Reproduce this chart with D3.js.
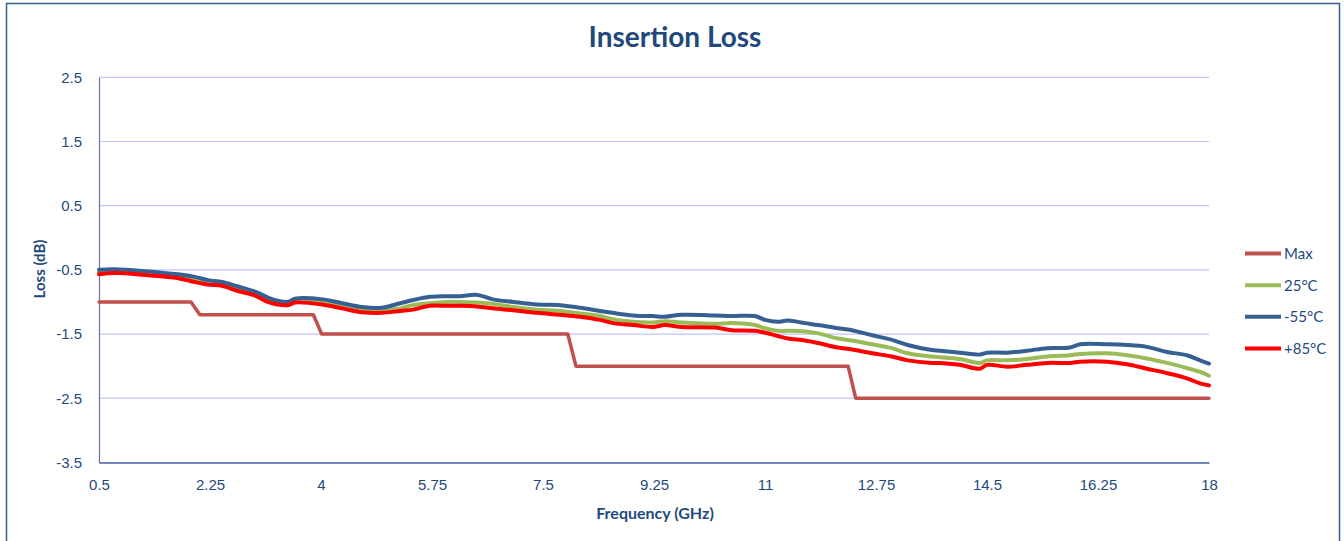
<!DOCTYPE html>
<html>
<head>
<meta charset="utf-8">
<script src="https://cdn.jsdelivr.net/npm/d3@7"></script>
<style>
    html, body { margin: 0; padding: 0; background: #ffffff; }
    svg { display: block; font-family: Lato, 'Open Sans', sans-serif; }
</style>
</head>
<body>
<svg id="chart" width="1344" height="541"></svg>
<script>
'use strict';

// Chart data
const freqs = [0.50, 0.75, 1.23, 1.75, 2.01, 2.22, 2.44, 2.69, 2.96, 3.16, 3.31, 3.48, 3.59, 4.02, 4.33, 4.65,
    4.96, 5.25, 5.45, 5.72, 5.99, 6.19, 6.46, 6.71, 7.03, 7.41, 7.77, 8.08, 8.40, 8.60, 8.92, 9.23,
    9.42, 9.69, 10.21, 10.48, 10.84, 11.00, 11.20, 11.36, 11.63, 11.84, 12.15, 12.37, 12.69, 13.00, 13.25, 13.63,
    13.76, 14.07, 14.39, 14.50, 14.82, 15.13, 15.45, 15.81, 15.97, 16.39, 16.71, 17.02, 17.34, 17.65, 17.86, 18.00];

const lossM55 = [-0.50, -0.49, -0.52, -0.57, -0.61, -0.66, -0.69, -0.76, -0.84, -0.93, -0.98, -1.00, -0.95, -0.96, -1.02, -1.08,
    -1.09, -1.02, -0.97, -0.92, -0.91, -0.91, -0.89, -0.96, -1.00, -1.04, -1.05, -1.09, -1.14, -1.17, -1.21, -1.22,
    -1.23, -1.20, -1.21, -1.22, -1.22, -1.28, -1.31, -1.29, -1.33, -1.36, -1.41, -1.44, -1.52, -1.59, -1.67, -1.75,
    -1.76, -1.79, -1.82, -1.79, -1.79, -1.76, -1.72, -1.71, -1.66, -1.66, -1.67, -1.70, -1.78, -1.83, -1.91, -1.96];

const loss25 = [-0.54, -0.52, -0.55, -0.60, -0.65, -0.70, -0.72, -0.80, -0.87, -0.97, -1.01, -1.03, -0.98, -0.99, -1.06, -1.12,
    -1.13, -1.10, -1.05, -1.02, -1.00, -1.00, -1.01, -1.03, -1.08, -1.12, -1.14, -1.18, -1.22, -1.27, -1.31, -1.32,
    -1.30, -1.32, -1.34, -1.33, -1.36, -1.41, -1.45, -1.45, -1.46, -1.49, -1.57, -1.60, -1.66, -1.72, -1.80, -1.85,
    -1.86, -1.89, -1.95, -1.91, -1.91, -1.89, -1.85, -1.83, -1.81, -1.80, -1.83, -1.88, -1.95, -2.03, -2.09, -2.15];

const lossP85 = [-0.57, -0.55, -0.58, -0.63, -0.69, -0.73, -0.75, -0.83, -0.90, -1.00, -1.04, -1.05, -1.01, -1.04, -1.10, -1.16,
    -1.17, -1.14, -1.12, -1.06, -1.06, -1.06, -1.07, -1.10, -1.13, -1.17, -1.20, -1.23, -1.28, -1.33, -1.36, -1.39,
    -1.36, -1.39, -1.40, -1.44, -1.45, -1.48, -1.53, -1.57, -1.60, -1.64, -1.71, -1.74, -1.80, -1.85, -1.91, -1.95,
    -1.95, -1.98, -2.04, -1.98, -2.01, -1.98, -1.95, -1.95, -1.93, -1.93, -1.97, -2.04, -2.11, -2.19, -2.27, -2.30];

const maxFreqs = [0.5, 1.95, 2.09, 3.88, 4.01, 7.89, 8.02, 12.31, 12.43, 18.0];
const maxLoss = [-1.0, -1.0, -1.2, -1.2, -1.5, -1.5, -2.0, -2.0, -2.5, -2.5];

const seriesNames = ['Max', '25°C', '-55°C', '+85°C'];
const xTicks = [0.5, 2.25, 4, 5.75, 7.5, 9.25, 11, 12.75, 14.5, 16.25, 18];
const yTicks = [2.5, 1.5, 0.5, -0.5, -1.5, -2.5, -3.5];

// IIFE
(function () {

    // Get svg
    const svg = d3.select('#chart');

    // Config
    const plot = {'left': 99, 'right': 1209, 'top': 77.3, 'bottom': 462.4};
    const textColor = '#1f497d';
    const colors = {'Max': '#c0504d', '25°C': '#9bbb59', '-55°C': '#376092', '+85°C': '#ff0000'};

    // Build series (Max is a stepped limit, drawn straight)
    const series = [
        {'name': 'Max', 'pts': maxFreqs.map((f, i) => [f, maxLoss[i]]), 'width': 3.5, 'smooth': false},
        {'name': '25°C', 'pts': freqs.map((f, i) => [f, loss25[i]]), 'width': 4, 'smooth': true},
        {'name': '-55°C', 'pts': freqs.map((f, i) => [f, lossM55[i]]), 'width': 4, 'smooth': true},
        {'name': '+85°C', 'pts': freqs.map((f, i) => [f, lossP85[i]]), 'width': 4, 'smooth': true}
    ];

    // Outer border
    svg.append('rect')
        .attr('x', 6.5)
        .attr('y', 3.5)
        .attr('width', 1333)
        .attr('height', 600)
        .style('fill', 'none')
        .style('stroke', '#365f91')
        .style('stroke-width', 1.5);

    // Scales
    const scX = d3.scaleLinear()
        .domain([0.5, 18])
        .range([plot.left, plot.right]);

    const scY = d3.scaleLinear()
        .domain([-3.5, 2.5])
        .range([plot.bottom, plot.top]);

    // Gridlines
    svg.append('g')
        .attr('class', 'grid')
        .selectAll('line')
        .data(yTicks.filter((d) => d > -3.5))
        .enter()
        .append('line')
            .attr('x1', plot.left)
            .attr('x2', plot.right)
            .attr('y1', (d) => scY(d))
            .attr('y2', (d) => scY(d))
            .style('stroke', '#c3c3f7')
            .style('stroke-width', 1.2);

    // X axis
    const xAxis = svg.append('g')
        .attr('class', 'x axis')
        .attr('transform', `translate(0, ${plot.bottom})`)
        .call(d3.axisBottom(scX).tickValues(xTicks).tickSize(0).tickPadding(17).tickFormat((d) => String(d)));

    xAxis.select('.domain')
        .style('stroke', '#7588bf')
        .style('stroke-width', 2);

    // Y axis
    const yAxis = svg.append('g')
        .attr('class', 'y axis')
        .attr('transform', `translate(${plot.left}, 0)`)
        .call(d3.axisLeft(scY).tickValues(yTicks).tickSize(0).tickPadding(17).tickFormat((d) => String(d)));

    yAxis.select('.domain')
        .style('stroke', '#5f77ad')
        .style('stroke-width', 1.2);

    svg.selectAll('.axis text')
        .style('font-size', '15px')
        .style('fill', textColor);

    // Lines
    const smoothLine = d3.line()
        .x((d) => scX(d[0]))
        .y((d) => scY(d[1]))
        .curve(d3.curveCatmullRom.alpha(0.5));

    const stepLine = d3.line()
        .x((d) => scX(d[0]))
        .y((d) => scY(d[1]));

    svg.append('g')
        .attr('class', 'lines')
        .selectAll('path')
        .data(series)
        .enter()
        .append('path')
            .attr('d', (d) => d.smooth ? smoothLine(d.pts) : stepLine(d.pts))
            .style('fill', 'none')
            .style('stroke', (d) => colors[d.name])
            .style('stroke-width', (d) => d.width)
            .style('stroke-linejoin', 'round')
            .style('stroke-linecap', 'round');

    // Title
    svg.append('text')
        .attr('x', 675)
        .attr('y', 47)
        .attr('text-anchor', 'middle')
        .style('font-size', '28px')
        .style('font-weight', 'bold')
        .style('fill', textColor)
        .text('Insertion Loss');

    // Axis titles
    svg.append('text')
        .attr('x', 655)
        .attr('y', 519)
        .attr('text-anchor', 'middle')
        .style('font-size', '16px')
        .style('font-weight', 'bold')
        .style('fill', textColor)
        .text('Frequency (GHz)');

    svg.append('text')
        .attr('transform', 'translate(45, 269) rotate(-90)')
        .attr('text-anchor', 'middle')
        .style('font-size', '15px')
        .style('font-weight', 'bold')
        .style('fill', textColor)
        .text('Loss (dB)');

    // Legend
    const legend = svg.append('g')
        .attr('class', 'legend')
        .selectAll('g')
        .data(seriesNames)
        .enter()
        .append('g')
            .attr('transform', (d, i) => `translate(1245, ${253.6 + i * 31.6})`);

    legend.append('line')
        .attr('x1', 0)
        .attr('x2', 36)
        .style('stroke', (d) => colors[d])
        .style('stroke-width', 4);

    legend.append('text')
        .attr('x', 39)
        .attr('dy', '0.36em')
        .style('font-size', '15px')
        .style('fill', textColor)
        .text((d) => d);

})();
</script>
</body>
</html>
